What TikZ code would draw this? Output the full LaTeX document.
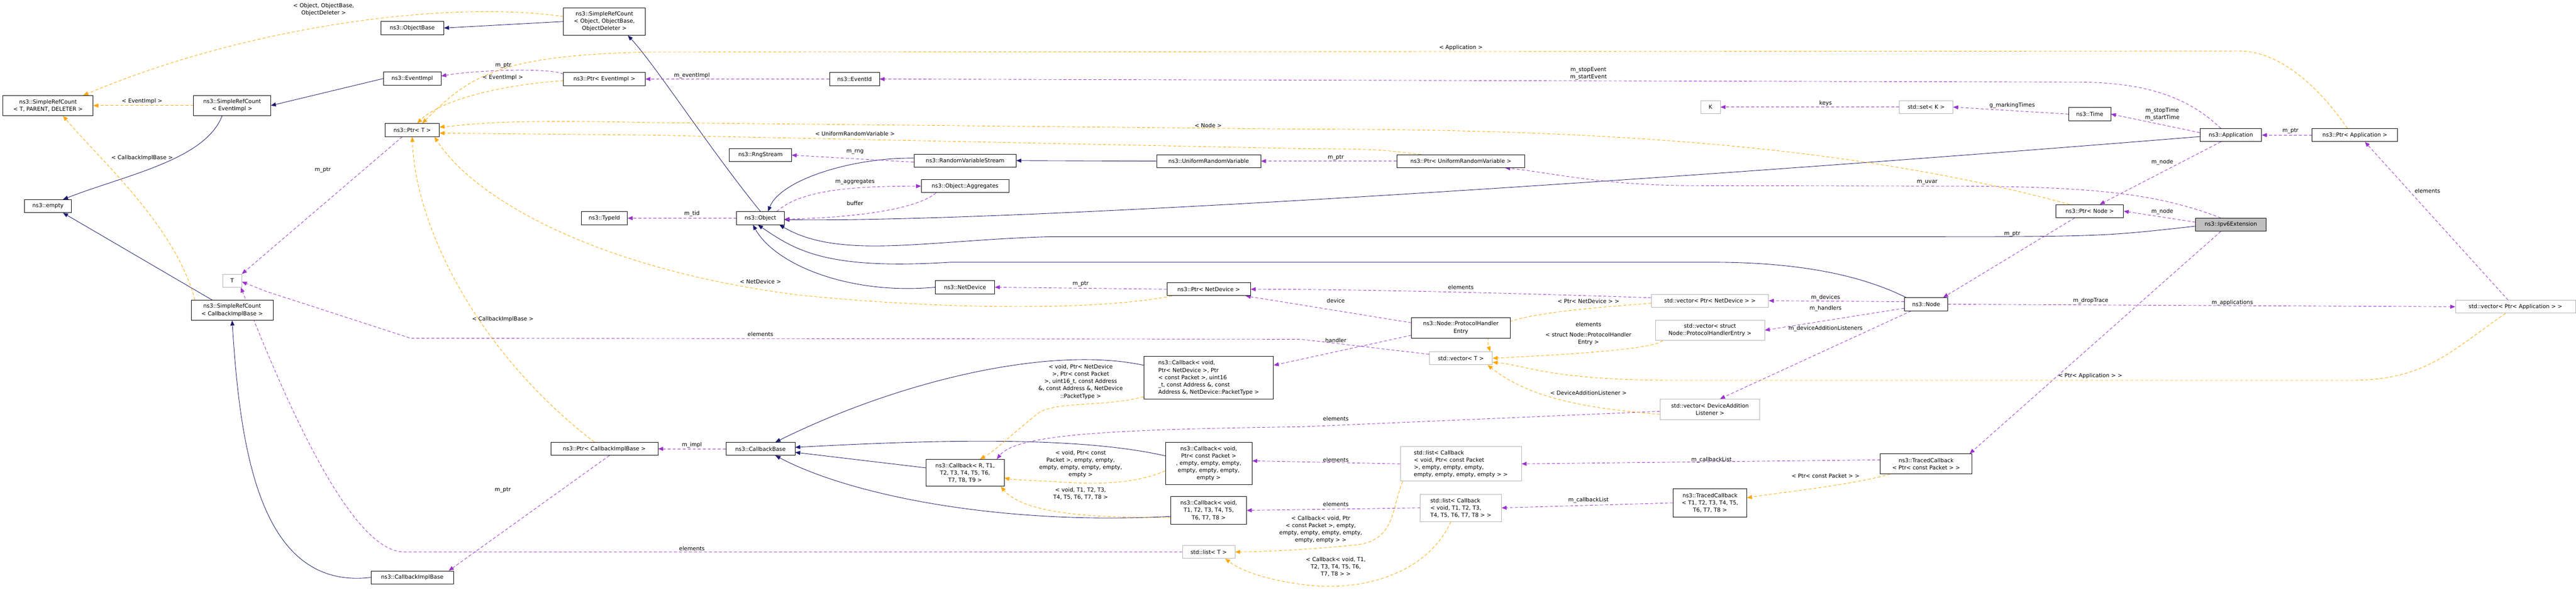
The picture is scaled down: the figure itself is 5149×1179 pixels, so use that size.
\documentclass[tikz,border=0pt]{standalone}
\usepackage{fontspec}
\setmainfont{DejaVu Sans}
\usetikzlibrary{arrows.meta,backgrounds,calc}
\definecolor{navy}{HTML}{191970}
\definecolor{purp}{HTML}{9A32CD}
\definecolor{orng}{HTML}{FFA500}
\begin{document}
\begin{tikzpicture}[x=1pt,y=-1pt,
 every node/.style={font=\fontsize{11}{14.5}\selectfont},
 cls/.style={draw=black,fill=white,inner sep=0pt,align=center,line width=0.9pt},
 stdc/.style={draw=black!30,fill=white,inner sep=0pt,align=center,line width=0.9pt},
 lbl/.style={inner sep=0pt,align=center,fill=none},
 inh/.style={draw=navy,line width=0.9pt,-{Triangle[length=10pt,width=8pt]}},
 usee/.style={draw=purp,line width=0.9pt,dashed,dash pattern=on 6pt off 4pt,-{Triangle[length=10pt,width=8pt]}},
 tpl/.style={draw=orng,line width=0.9pt,dashed,dash pattern=on 6pt off 4pt,-{Triangle[length=10pt,width=8pt]}}]
\useasboundingbox (0,0) rectangle (5149,1179);
% nodes
\node[cls,minimum width=163,minimum height=55] (srcobj) at (1208,43) {ns3::SimpleRefCount\\< Object, ObjectBase,\\ ObjectDeleter >};
\node[cls,minimum width=126,minimum height=26] (objbase) at (824,56) {ns3::ObjectBase};
\node[cls,minimum width=115,minimum height=26] (eventimpl) at (824,157) {ns3::EventImpl};
\node[cls,minimum width=163,minimum height=26] (ptrevent) at (1208,158) {ns3::Ptr< EventImpl >};
\node[cls,minimum width=180,minimum height=40] (srcT) at (96,211) {ns3::SimpleRefCount\\< T, PARENT, DELETER >};
\node[cls,minimum width=154,minimum height=40] (srcEv) at (464,211) {ns3::SimpleRefCount\\< EventImpl >};
\node[cls,minimum width=108,minimum height=26] (ptrT) at (824,260) {ns3::Ptr< T >};
\node[cls,minimum width=94,minimum height=26] (empty) at (96,412) {ns3::empty};
\node[cls,minimum width=92,minimum height=26] (typeid) at (1208,436) {ns3::TypeId};
\node[stdc,minimum width=38,minimum height=26] (T) at (464,561) {T};
\node[cls,minimum width=164,minimum height=40] (srcCIB) at (464,620) {ns3::SimpleRefCount\\< CallbackImplBase >};
\node[cls,minimum width=214,minimum height=26] (ptrCIB) at (1208,897) {ns3::Ptr< CallbackImplBase >};
\node[cls,minimum width=165,minimum height=26] (cib) at (824,1154) {ns3::CallbackImplBase};
\node[cls,minimum width=100,minimum height=26] (eventid) at (1708,158) {ns3::EventId};
\node[cls,minimum width=124,minimum height=26] (rng) at (1520,310) {ns3::RngStream};
\node[cls,minimum width=204,minimum height=26] (rvs) at (1929,321) {ns3::RandomVariableStream};
\node[cls,minimum width=208,minimum height=26] (urv) at (2416,322) {ns3::UniformRandomVariable};
\node[cls,minimum width=175,minimum height=26] (agg) at (1929,372) {ns3::Object::Aggregates};
\node[cls,minimum width=95,minimum height=26] (object) at (1520,436) {ns3::Object};
\node[cls,minimum width=118,minimum height=26] (netdev) at (1929,574) {ns3::NetDevice};
\node[cls,minimum width=167,minimum height=26] (ptrnd) at (2416,578) {ns3::Ptr< NetDevice >};
\node[cls,minimum width=138,minimum height=26] (cbbase) at (1520,897) {ns3::CallbackBase};
\node[cls,minimum width=156,minimum height=54] (cbR) at (1929,945) {ns3::Callback< R, T1,\\ T2, T3, T4, T5, T6,\\ T7, T8, T9 >};
\node[cls,minimum width=259,minimum height=85,align=left] (cbND) at (2416,755) {ns3::Callback< void,\\ Ptr< NetDevice >, Ptr\\< const Packet >, uint16\\\_t, const Address \&, const\\ Address \&, NetDevice::PacketType >};
\node[cls,minimum width=173,minimum height=84] (cbPkt) at (2416,926) {ns3::Callback< void,\\ Ptr< const Packet >\\, empty, empty, empty,\\ empty, empty, empty,\\ empty >};
\node[cls,minimum width=151,minimum height=55] (cbT8) at (2416,1020) {ns3::Callback< void,\\ T1, T2, T3, T4, T5,\\ T6, T7, T8 >};
\node[stdc,minimum width=105,minimum height=26] (listT) at (2416,1103) {std::list< T >};
\node[cls,minimum width=256,minimum height=26] (ptrurv) at (2920,322) {ns3::Ptr< UniformRandomVariable >};
\node[stdc,minimum width=39,minimum height=26] (K) at (3419,214) {K};
\node[stdc,minimum width=107,minimum height=26] (setK) at (3850,214) {std::set< K >};
\node[stdc,minimum width=234,minimum height=26] (vecND) at (3418,601) {std::vector< Ptr< NetDevice > >};
\node[cls,minimum width=87,minimum height=26] (node) at (3850,608) {ns3::Node};
\node[cls,minimum width=197,minimum height=41] (phe) at (2920,655) {ns3::Node::ProtocolHandler\\Entry};
\node[stdc,minimum width=218,minimum height=41] (vecPHE) at (3418,660) {std::vector< struct\\ Node::ProtocolHandlerEntry >};
\node[stdc,minimum width=126,minimum height=26] (vecT) at (2920,716) {std::vector< T >};
\node[stdc,minimum width=199,minimum height=41] (vecDAL) at (3418,818) {std::vector< DeviceAddition\\Listener >};
\node[stdc,minimum width=242,minimum height=69,align=left] (listPkt) at (2920,927) {std::list< Callback\\< void, Ptr< const Packet\\ >, empty, empty, empty,\\ empty, empty, empty, empty > >};
\node[stdc,minimum width=162,minimum height=55,align=left] (listT8) at (2920,1015) {std::list< Callback\\< void, T1, T2, T3,\\ T4, T5, T6, T7, T8 > >};
\node[cls,minimum width=147,minimum height=56] (tcT8) at (3418,1005) {ns3::TracedCallback\\< T1, T2, T3, T4, T5,\\ T6, T7, T8 >};
\node[cls,minimum width=183,minimum height=40] (tcPkt) at (3850,927) {ns3::TracedCallback\\< Ptr< const Packet > >};
\node[cls,minimum width=84,minimum height=26] (time) at (4177,228) {ns3::Time};
\node[cls,minimum width=123,minimum height=26] (app) at (4459,270) {ns3::Application};
\node[cls,minimum width=171,minimum height=26] (ptrApp) at (4707,270) {ns3::Ptr< Application >};
\node[cls,minimum width=135,minimum height=26] (ptrNode) at (4177,422) {ns3::Ptr< Node >};
\node[cls,fill=black!25,minimum width=141,minimum height=26] (ipv6) at (4459,449) {ns3::Ipv6Extension};
\node[stdc,minimum width=240,minimum height=26] (vecApp) at (5028,613) {std::vector< Ptr< Application > >};
% labels
\node[lbl] (l01) at (647,19) {< Object, ObjectBase,\\ObjectDeleter >};
\node[lbl] (l02) at (284,202) {< EventImpl >};
\node[lbl] (l03) at (284,316) {< CallbackImplBase >};
\node[lbl] (l04) at (1006,131) {m\_ptr};
\node[lbl] (l05) at (1005,155) {< EventImpl >};
\node[lbl] (l06) at (645,340) {m\_ptr};
\node[lbl] (l07) at (1005,638) {< CallbackImplBase >};
\node[lbl] (l08) at (1005,979) {m\_ptr};
\node[lbl] (l09) at (1383,151) {m\_eventImpl};
\node[lbl] (l10) at (1709,304) {m\_rng};
\node[lbl] (l11) at (1709,364) {m\_aggregates};
\node[lbl] (l12) at (1709,406) {buffer};
\node[lbl] (l13) at (1383,427) {m\_tid};
\node[lbl] (l14) at (1520,563) {< NetDevice >};
\node[lbl] (l15) at (2160,567) {m\_ptr};
\node[lbl] (l16) at (2415,251) {< Node >};
\node[lbl] (l17) at (1709,267) {< UniformRandomVariable >};
\node[lbl] (l18) at (1520,668) {elements};
\node[lbl] (l19) at (1383,889) {m\_impl};
\node[lbl] (l20) at (2160,763) {< void, Ptr< NetDevice\\ >, Ptr< const Packet\\ >, uint16\_t, const Address\\ \&, const Address \&, NetDevice\\ ::PacketType >};
\node[lbl] (l21) at (2160,927) {< void, Ptr< const\\ Packet >, empty, empty,\\ empty, empty, empty, empty,\\ empty >};
\node[lbl] (l22) at (2160,987) {< void, T1, T2, T3,\\ T4, T5, T6, T7, T8 >};
\node[lbl] (l23) at (1383,1096) {elements};
\node[lbl] (l24) at (2920,95) {< Application >};
\node[lbl] (l25) at (3175,147) {m\_stopEvent\\m\_startEvent};
\node[lbl] (l26) at (3649,207) {keys};
\node[lbl] (l27) at (2670,315) {m\_ptr};
\node[lbl] (l28) at (3852,364) {m\_uvar};
\node[lbl] (l29) at (2920,574) {elements};
\node[lbl] (l30) at (2670,601) {device};
\node[lbl] (l31) at (3175,602) {< Ptr< NetDevice > >};
\node[lbl] (l32) at (3649,595) {m\_devices};
\node[lbl] (l33) at (3649,617) {m\_handlers};
\node[lbl] (l34) at (3175,648) {elements};
\node[lbl] (l35) at (3175,677) {< struct Node::ProtocolHandler\\Entry >};
\node[lbl] (l36) at (3649,657) {m\_deviceAdditionListeners};
\node[lbl] (l37) at (2670,680) {handler};
\node[lbl] (l38) at (3175,785) {< DeviceAdditionListener >};
\node[lbl] (l39) at (2670,837) {elements};
\node[lbl] (l40) at (2670,919) {elements};
\node[lbl] (l41) at (3421,919) {m\_callbackList};
\node[lbl] (l42) at (3649,951) {< Ptr< const Packet > >};
\node[lbl] (l43) at (2670,1008) {elements};
\node[lbl] (l44) at (3175,1000) {m\_callbackList};
\node[lbl] (l45) at (2640,1058) {< Callback< void, Ptr\\< const Packet >, empty,\\ empty, empty, empty, empty,\\ empty, empty > >};
\node[lbl] (l46) at (2670,1133) {< Callback< void, T1,\\ T2, T3, T4, T5, T6,\\ T7, T8 > >};
\node[lbl] (l47) at (4022,211) {g\_markingTimes};
\node[lbl] (l48) at (4322,228) {m\_stopTime\\m\_startTime};
\node[lbl] (l49) at (4578,262) {m\_ptr};
\node[lbl] (l50) at (4322,324) {m\_node};
\node[lbl] (l51) at (4322,423) {m\_node};
\node[lbl] (l52) at (4022,468) {m\_ptr};
\node[lbl] (l53) at (4852,382) {elements};
\node[lbl] (l54) at (4179,601) {m\_dropTrace};
\node[lbl] (l55) at (4462,605) {m\_applications};
\node[lbl] (l56) at (4178,751) {< Ptr< Application > >};
\begin{scope}[on background layer]
% inheritance
\draw[inh] (srcobj.west) -- (objbase.east);
\draw[inh] (object.north) .. controls (1420,300) and (1310,130) .. ([shift={(47,0)}]srcobj.south);
\draw[inh] (eventimpl.west) -- (srcEv.east);
\draw[inh] ([shift={(-20,0)}]srcEv.south) .. controls (410,320) and (250,350) .. ([shift={(30,0)}]empty.north);
\draw[inh] ([shift={(-40,0)}]srcCIB.north) -- ([shift={(30,0)}]empty.south);
\draw[inh] (cib.west) .. controls (520,1180) and (480,900) .. (srcCIB.south);
\draw[inh] ([shift={(0,-5)}]rvs.west) .. controls (1700,315) and (1560,360) .. ([shift={(15,0)}]object.north);
\draw[inh] (urv.west) -- (rvs.east);
\draw[inh] ([shift={(0,3)}]app.west) .. controls (3200,370) and (2000,445) .. ([shift={(0,3)}]object.east);
\draw[inh] ([shift={(0,3)}]ipv6.west) .. controls (4200,473) .. (3800,473) -- (2100,473) .. controls (1850,480) and (1680,520) .. ([shift={(-10,0)}]object.south east);
\draw[inh] ([shift={(-40,0)}]node.north) .. controls (3700,540) and (3560,524) .. (3420,524) -- (1900,524) .. controls (1650,540) and (1590,500) .. ([shift={(-5,0)}]object.south);
\draw[inh] (netdev.west) .. controls (1700,590) and (1550,530) .. ([shift={(-15,0)}]object.south);
\draw[inh] ([shift={(0,-25)}]cbND.west) .. controls (2100,690) and (1800,760) .. ([shift={(30,0)}]cbbase.north);
\draw[inh] ([shift={(0,-10)}]cbR.west) -- ([shift={(0,7)}]cbbase.east);
\draw[inh] ([shift={(0,-15)}]cbPkt.west) .. controls (2150,870) and (1850,880) .. ([shift={(0,-3)}]cbbase.east);
\draw[inh] ([shift={(0,12)}]cbT8.west) .. controls (2000,1050) and (1700,990) .. ([shift={(30,0)}]cbbase.south);
% usage
\draw[usee] ([shift={(0,-10)}]ptrevent.west) .. controls (1100,135) and (950,140) .. ([shift={(0,-5)}]eventimpl.east);
\draw[usee] (eventid.west) -- (ptrevent.east);
\draw[usee] ([shift={(-20,0)}]app.north) .. controls (4380,200) and (4300,164) .. (4150,164) -- (1758,158);
\draw[usee] ([shift={(-20,0)}]ptrT.south) -- (T.north east);
\draw[usee] (object.west) -- (typeid.east);
\draw[usee] ([shift={(0,3)}]rvs.west) -- (rng.east);
\draw[usee] ([shift={(-15,0)}]object.north east) .. controls (1600,380) and (1700,372) .. (agg.west);
\draw[usee] ([shift={(30,0)}]agg.south west) .. controls (1830,420) and (1700,435) .. ([shift={(0,2)}]object.east);
\draw[usee] (ptrurv.west) -- (urv.east);
\draw[usee] ([shift={(-20,0)}]ipv6.north) .. controls (4320,390) and (4200,372) .. (3900,372) -- (3380,371) .. controls (3200,370) and (3100,345) .. ([shift={(-40,0)}]ptrurv.south east);
\draw[usee] (ptrnd.west) -- (netdev.east);
\draw[usee] ([shift={(0,-6)}]vecND.west) .. controls (3000,585) and (2700,578) .. (ptrnd.east);
\draw[usee] ([shift={(0,-10)}]phe.west) -- ([shift={(-10,0)}]ptrnd.south east);
\draw[usee] ([shift={(0,15)}]phe.west) -- ([shift={(0,-25)}]cbND.east);
\draw[usee] ([shift={(0,-8)}]vecT.west) -- (2600,678) -- (821,676) -- (531,582) -- ([shift={(0,2)}]T.east);
\draw[usee] (listT.west) -- (806,1103) .. controls (700,1100) and (570,800) .. ([shift={(-2,0)}]T.south east);
\draw[usee] ([shift={(0,4)}]vecDAL.west) -- (2600,853) .. controls (2200,858) and (2030,870) .. ([shift={(-15,0)}]cbR.north east);
\draw[usee] ([shift={(0,-5)}]node.west) -- (vecND.east);
\draw[usee] ([shift={(0,8)}]node.west) -- (vecPHE.east);
\draw[usee] ([shift={(-30,0)}]node.south) -- ([shift={(20,0)}]vecDAL.north);
\draw[usee] (node.east) -- (vecApp.west);
\draw[usee] (ptrApp.west) -- (app.east);
\draw[usee] ([shift={(-15,0)}]vecApp.north) -- ([shift={(20,0)}]ptrApp.south);
\draw[usee] ([shift={(0,-5)}]app.west) -- (time.east);
\draw[usee] (time.west) -- (setK.east);
\draw[usee] (setK.west) -- (K.east);
\draw[usee] ([shift={(-20,0)}]app.south) -- ([shift={(20,0)}]ptrNode.north);
\draw[usee] ([shift={(0,-5)}]ipv6.west) -- (ptrNode.east);
\draw[usee] ([shift={(-30,0)}]ptrNode.south) -- ([shift={(-10,0)}]node.north east);
\draw[usee] ([shift={(-20,0)}]ipv6.south) -- ([shift={(-5,0)}]tcPkt.north east);
\draw[usee] ([shift={(0,-8)}]tcPkt.west) -- (listPkt.east);
\draw[usee] (tcT8.west) -- (listT8.east);
\draw[usee] (listPkt.west) -- ([shift={(0,-5)}]cbPkt.east);
\draw[usee] (listT8.west) -- (cbT8.east);
\draw[usee] ([shift={(10,0)}]ptrCIB.south) -- ([shift={(-10,0)}]cib.north east);
\draw[usee] (cbbase.west) -- (ptrCIB.east);
% template
\draw[tpl] ([shift={(0,-10)}]srcobj.west) .. controls (900,0) and (500,50) .. ([shift={(-20,0)}]srcT.north east);
\draw[tpl] (srcEv.west) -- (srcT.east);
\draw[tpl] ([shift={(8,0)}]srcCIB.north west) .. controls (350,450) and (200,320) .. ([shift={(30,0)}]srcT.south);
\draw[tpl] ([shift={(0,3)}]ptrevent.west) .. controls (1000,170) and (880,200) .. ([shift={(10,0)}]ptrT.north);
\draw[tpl] ([shift={(-15,0)}]ptrApp.north) .. controls (4640,180) and (4560,102) .. (4476,102) -- (1300,104) .. controls (1000,110) and (940,150) .. ([shift={(20,0)}]ptrT.north);
\draw[tpl] ([shift={(-40,0)}]ptrNode.north) .. controls (3700,290) and (3200,258) .. (2600,258) -- (1300,245) .. controls (1000,238) and (950,248) .. ([shift={(0,-6)}]ptrT.east);
\draw[tpl] ([shift={(-80,0)}]ptrurv.north) .. controls (2750,298) .. (2600,297) -- (1300,270) -- ([shift={(0,6)}]ptrT.east);
\draw[tpl] ([shift={(10,0)}]ptrnd.south west) .. controls (2200,620) and (1900,620) .. (1600,590) .. controls (1200,540) and (950,400) .. ([shift={(-10,0)}]ptrT.south east);
\draw[tpl] ([shift={(-20,0)}]ptrCIB.north) .. controls (950,700) and (830,450) .. (ptrT.south);
\draw[tpl] ([shift={(0,-5)}]cbND.south west) .. controls (2200,815) and (2100,800) .. (2070,830) .. controls (2020,870) and (1990,900) .. ([shift={(30,0)}]cbR.north);
\draw[tpl] ([shift={(0,15)}]cbPkt.west) .. controls (2250,975) and (2150,965) .. (2100,962) .. controls (2050,960) and (2020,958) .. ([shift={(0,10)}]cbR.east);
\draw[tpl] ([shift={(0,14)}]cbT8.west) .. controls (2200,1035) and (2050,1030) .. ([shift={(-7,0)}]cbR.south east);
\draw[tpl] ([shift={(0,5)}]vecND.west) .. controls (3050,625) and (2960,640) .. ([shift={(-5,0)}]vecT.north east);
\draw[tpl] ([shift={(15,0)}]vecPHE.south west) .. controls (3300,700) and (3100,710) .. (vecT.east);
\draw[tpl] ([shift={(0,10)}]vecDAL.west) .. controls (3150,815) and (3050,790) .. ([shift={(-10,0)}]vecT.south east);
\draw[tpl] ([shift={(-20,0)}]vecApp.south) .. controls (4900,700) and (4850,760) .. (4700,760) -- (3346,760) .. controls (3100,760) and (3050,730) .. ([shift={(0,8)}]vecT.east);
\draw[tpl] ([shift={(5,0)}]listPkt.south west) .. controls (2780,1020) and (2790,1085) .. (2700,1090) .. controls (2600,1100) and (2500,1103) .. (listT.east);
\draw[tpl] ([shift={(-20,0)}]listT8.south) .. controls (2850,1150) and (2720,1180) .. (2620,1170) .. controls (2530,1160) and (2480,1140) .. ([shift={(-20,0)}]listT.south east);
\draw[tpl] ([shift={(20,0)}]tcPkt.south west) .. controls (3700,970) and (3550,985) .. ([shift={(0,-10)}]tcT8.east);
\end{scope}
\end{tikzpicture}
\end{document}
